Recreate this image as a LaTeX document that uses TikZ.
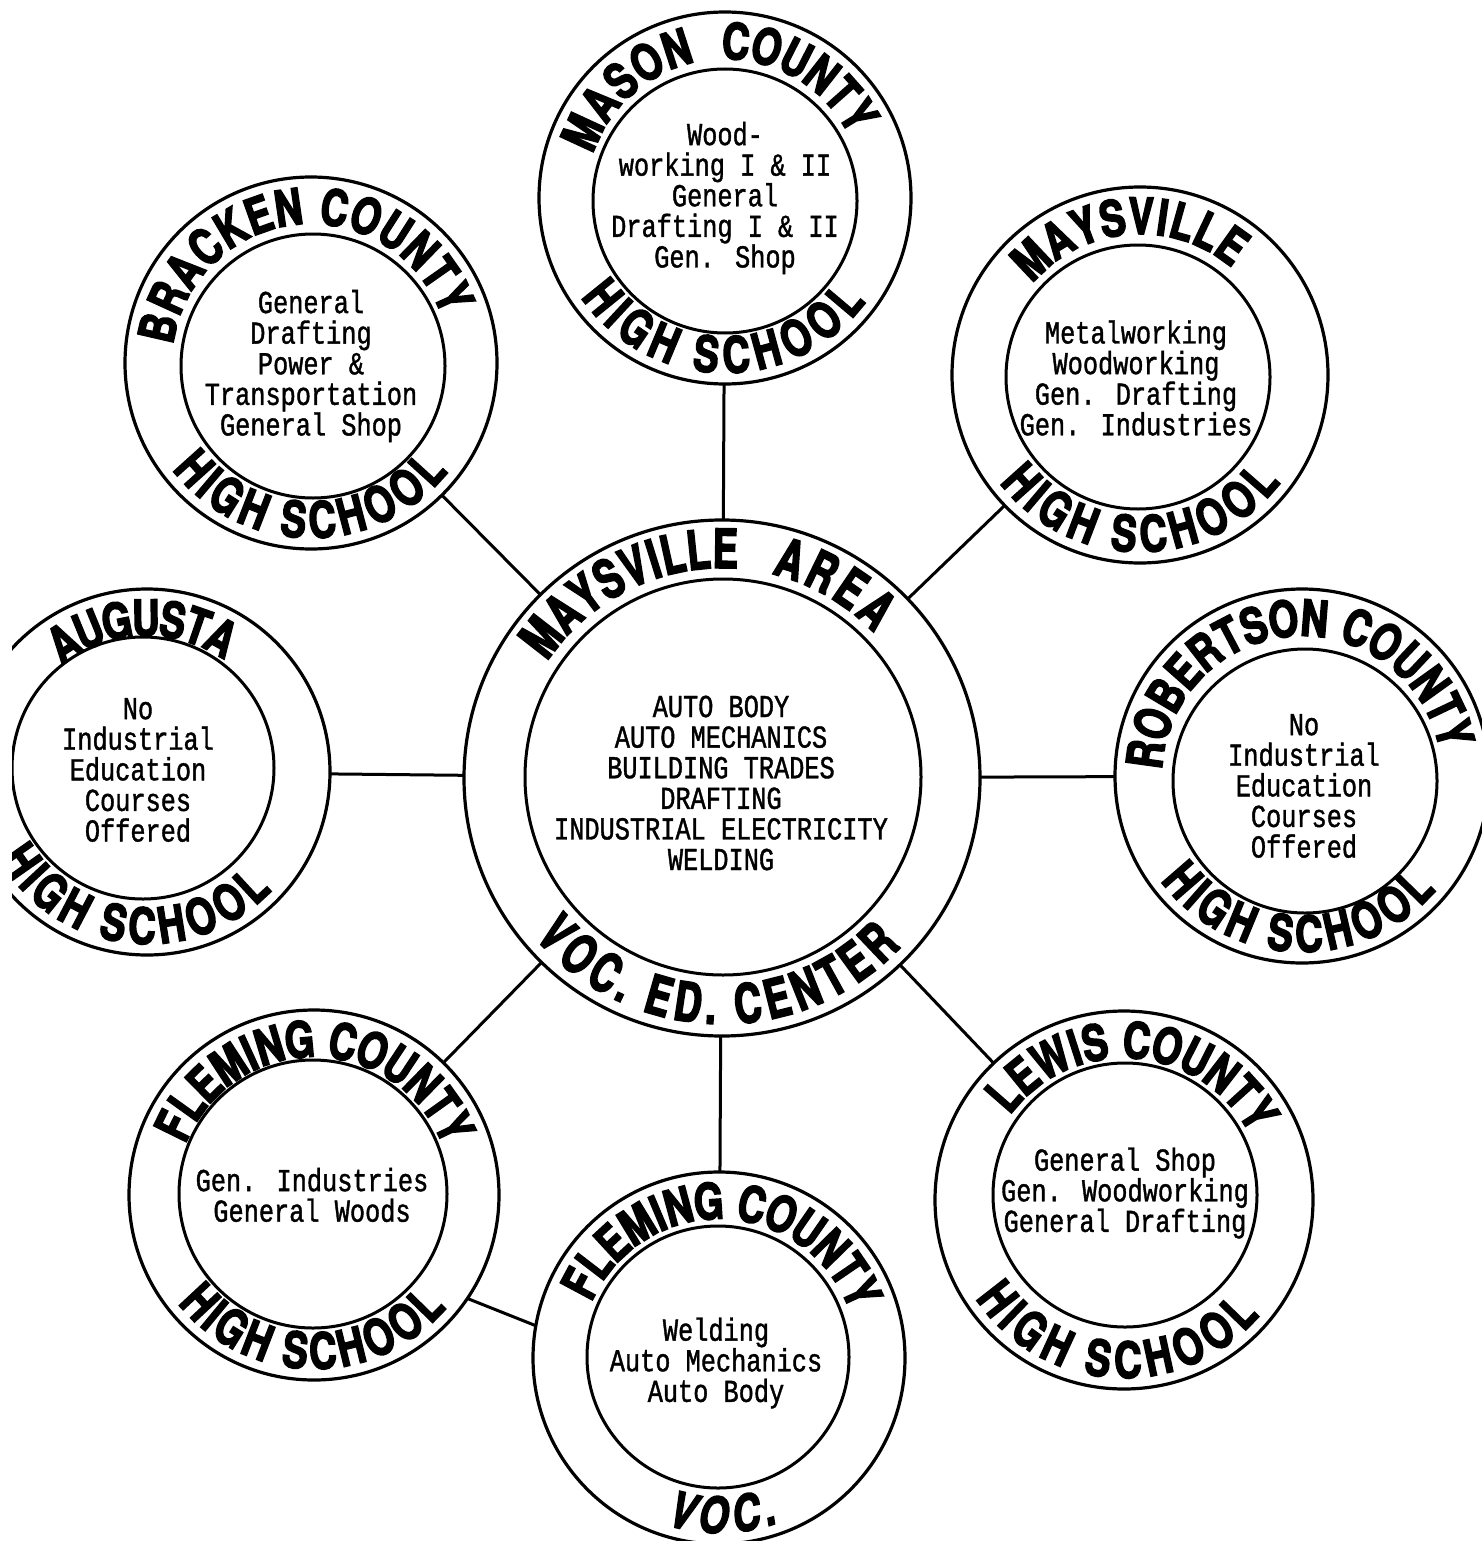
\documentclass[tikz,border=0pt]{standalone}
\usepackage{fontspec}
\usetikzlibrary{decorations.text}
\newfontfamily\ringfont{TeX Gyre Heros}[FakeStretch=0.76,FakeBold=3]
\newfontfamily\hubringfont{TeX Gyre Heros}[FakeStretch=0.7,FakeBold=3]
\newfontfamily\twfont{Liberation Mono}[FakeStretch=0.79,FakeBold=1.2]
\newcommand\ringA{\ringfont\bfseries\fontsize{50}{50}\selectfont}
\newcommand\ringB{\hubringfont\bfseries\fontsize{54}{54}\selectfont}
\newcommand\ringC{\ringfont\bfseries\itshape\fontsize{50}{50}\selectfont}
\newcommand\bodyfont{\twfont\fontsize{32}{30.6}\selectfont}
% #1 cx, #2 cy, #3 radius of letter middles, #4 start angle, #5 end angle, #6 font, #7 text
\newcommand\arctext[7]{%
  \path[decorate,decoration={text along path,raise=-18pt,text align=fit to path,
      text={|#6|#7}}]
    (#1,#2) ++(#4:#3) arc[start angle=#4,end angle=#5,radius=#3];}
\tikzset{
  outerc/.style={circle,draw,line width=3.2pt,inner sep=0pt,outer sep=0pt},
  innerc/.style={circle,draw,line width=3pt,inner sep=0pt,outer sep=0pt},
  body/.style={align=center,font=\bodyfont,inner sep=0pt},
  conn/.style={line width=3pt},
}
\begin{document}
\begin{tikzpicture}[x=1pt,y=1pt]
\useasboundingbox (0,0) rectangle (1482,-1541);
\fill[white] (0,0) rectangle (1482,-1541);
\clip (12,0) rectangle (1482,-1541);

% ---- hub: Maysville Area Voc. Ed. Center
\node[outerc,minimum size=516pt] (hub) at (722,-778) {};
\node[innerc,minimum size=396pt] (hubIn) at (723,-777) {};
\node[body] (hubTxt) at (721,-783) {AUTO BODY\\AUTO MECHANICS\\BUILDING TRADES\\DRAFTING\\INDUSTRIAL ELECTRICITY\\WELDING};
\arctext{722}{-778}{228}{146}{86}{\ringB}{MAYSVILLE}
\arctext{722}{-778}{228}{76}{44}{\ringB}{AREA}
\arctext{722}{-778}{228}{220}{317}{\ringB}{VOC. ED. CENTER}

% ---- Mason County
\node[outerc,minimum size=372pt] (mason) at (725,-198) {};
\node[innerc,minimum size=264pt] (masonIn) at (725,-201) {};
\node[body] (masonTxt) at (725,-198) {Wood-\\working I \& II\\General\\Drafting I \& II\\Gen. Shop};
\arctext{725}{-198}{157}{161}{103}{\ringA}{MASON}
\arctext{725}{-198}{157}{91}{27}{\ringA}{COUNTY}
\arctext{725}{-198}{157}{214}{324}{\ringA}{HIGH SCHOOL}

% ---- Bracken County
\node[outerc,minimum size=372pt] (bracken) at (311,-363) {};
\node[innerc,minimum size=264pt] (brackenIn) at (313,-366) {};
\node[body] (brackenTxt) at (311,-366) {General\\Drafting\\Power \&\\Transportation\\General Shop};
\arctext{311}{-363}{157}{172}{20}{\ringA}{BRACKEN COUNTY}
\arctext{311}{-363}{157}{217}{322}{\ringA}{HIGH SCHOOL}

% ---- Maysville
\node[outerc,minimum size=376pt] (maysHS) at (1140,-375) {};
\node[innerc,minimum size=264pt] (maysHSIn) at (1138,-377) {};
\node[body] (maysHSTxt) at (1136,-378) {Metalworking\\Woodworking\\Gen. Drafting\\Gen. Industries};
\arctext{1140}{-375}{159}{139}{50}{\ringA}{MAYSVILLE}
\arctext{1140}{-375}{159}{217}{323}{\ringA}{HIGH SCHOOL}

% ---- Augusta
\node[outerc,minimum size=366pt] (augusta) at (147,-772) {};
\node[innerc,minimum size=262pt] (augustaIn) at (143,-768) {};
\node[body] (augustaTxt) at (138,-770) {No\\Industrial\\Education\\Courses\\Offered};
\arctext{147}{-772}{154}{128}{56}{\ringA}{AUGUSTA}
\arctext{147}{-772}{154}{210}{317}{\ringA}{HIGH SCHOOL}

% ---- Robertson County
\node[outerc,minimum size=374pt] (robertson) at (1302,-776) {};
\node[innerc,minimum size=264pt] (robertsonIn) at (1305,-781) {};
\node[body] (robertsonTxt) at (1304,-786) {No\\Industrial\\Education\\Courses\\Offered};
\arctext{1302}{-776}{158}{177}{11}{\ringA}{ROBERTSON COUNTY}
\arctext{1302}{-776}{158}{216}{320}{\ringA}{HIGH SCHOOL}

% ---- Lewis County
\node[outerc,minimum size=378pt] (lewis) at (1124,-1200) {};
\node[innerc,minimum size=264pt] (lewisIn) at (1125,-1195) {};
\node[body] (lewisTxt) at (1125,-1193) {General Shop\\Gen. Woodworking\\General Drafting};
\arctext{1124}{-1200}{160}{143}{28}{\ringA}{LEWIS COUNTY}
\arctext{1124}{-1200}{160}{213}{320}{\ringA}{HIGH SCHOOL}

% ---- Fleming County High School
\node[outerc,minimum size=370pt] (flemHS) at (314,-1195) {};
\node[innerc,minimum size=268pt] (flemHSIn) at (313,-1194) {};
\node[body] (flemHSTxt) at (312,-1195) {Gen. Industries\\General Woods};
\arctext{314}{-1195}{156}{158}{21}{\ringA}{FLEMING COUNTY}
\arctext{314}{-1195}{156}{218}{320}{\ringA}{HIGH SCHOOL}

% ---- Fleming County Voc.
\node[outerc,minimum size=372pt] (flemVoc) at (719,-1358) {};
\node[innerc,minimum size=262pt] (flemVocIn) at (718,-1357) {};
\node[body] (flemVocTxt) at (716,-1363) {Welding\\Auto Mechanics\\Auto Body};
\arctext{719}{-1358}{157}{156}{20}{\ringA}{FLEMING COUNTY}
\arctext{719}{-1358}{157}{252}{290}{\ringC}{VOC.}

% ---- connectors
\draw[conn] (hub) -- (mason);
\draw[conn] (hub) -- (bracken);
\draw[conn] (hub) -- (maysHS);
\draw[conn] (hub) -- (augusta);
\draw[conn] (hub) -- (robertson);
\draw[conn] (hub) -- (lewis);
\draw[conn] (hub) -- (flemHS);
\draw[conn] (hub) -- (flemVoc);
\draw[conn] (flemHS.-34) -- (flemVoc.170);
\end{tikzpicture}
\end{document}
